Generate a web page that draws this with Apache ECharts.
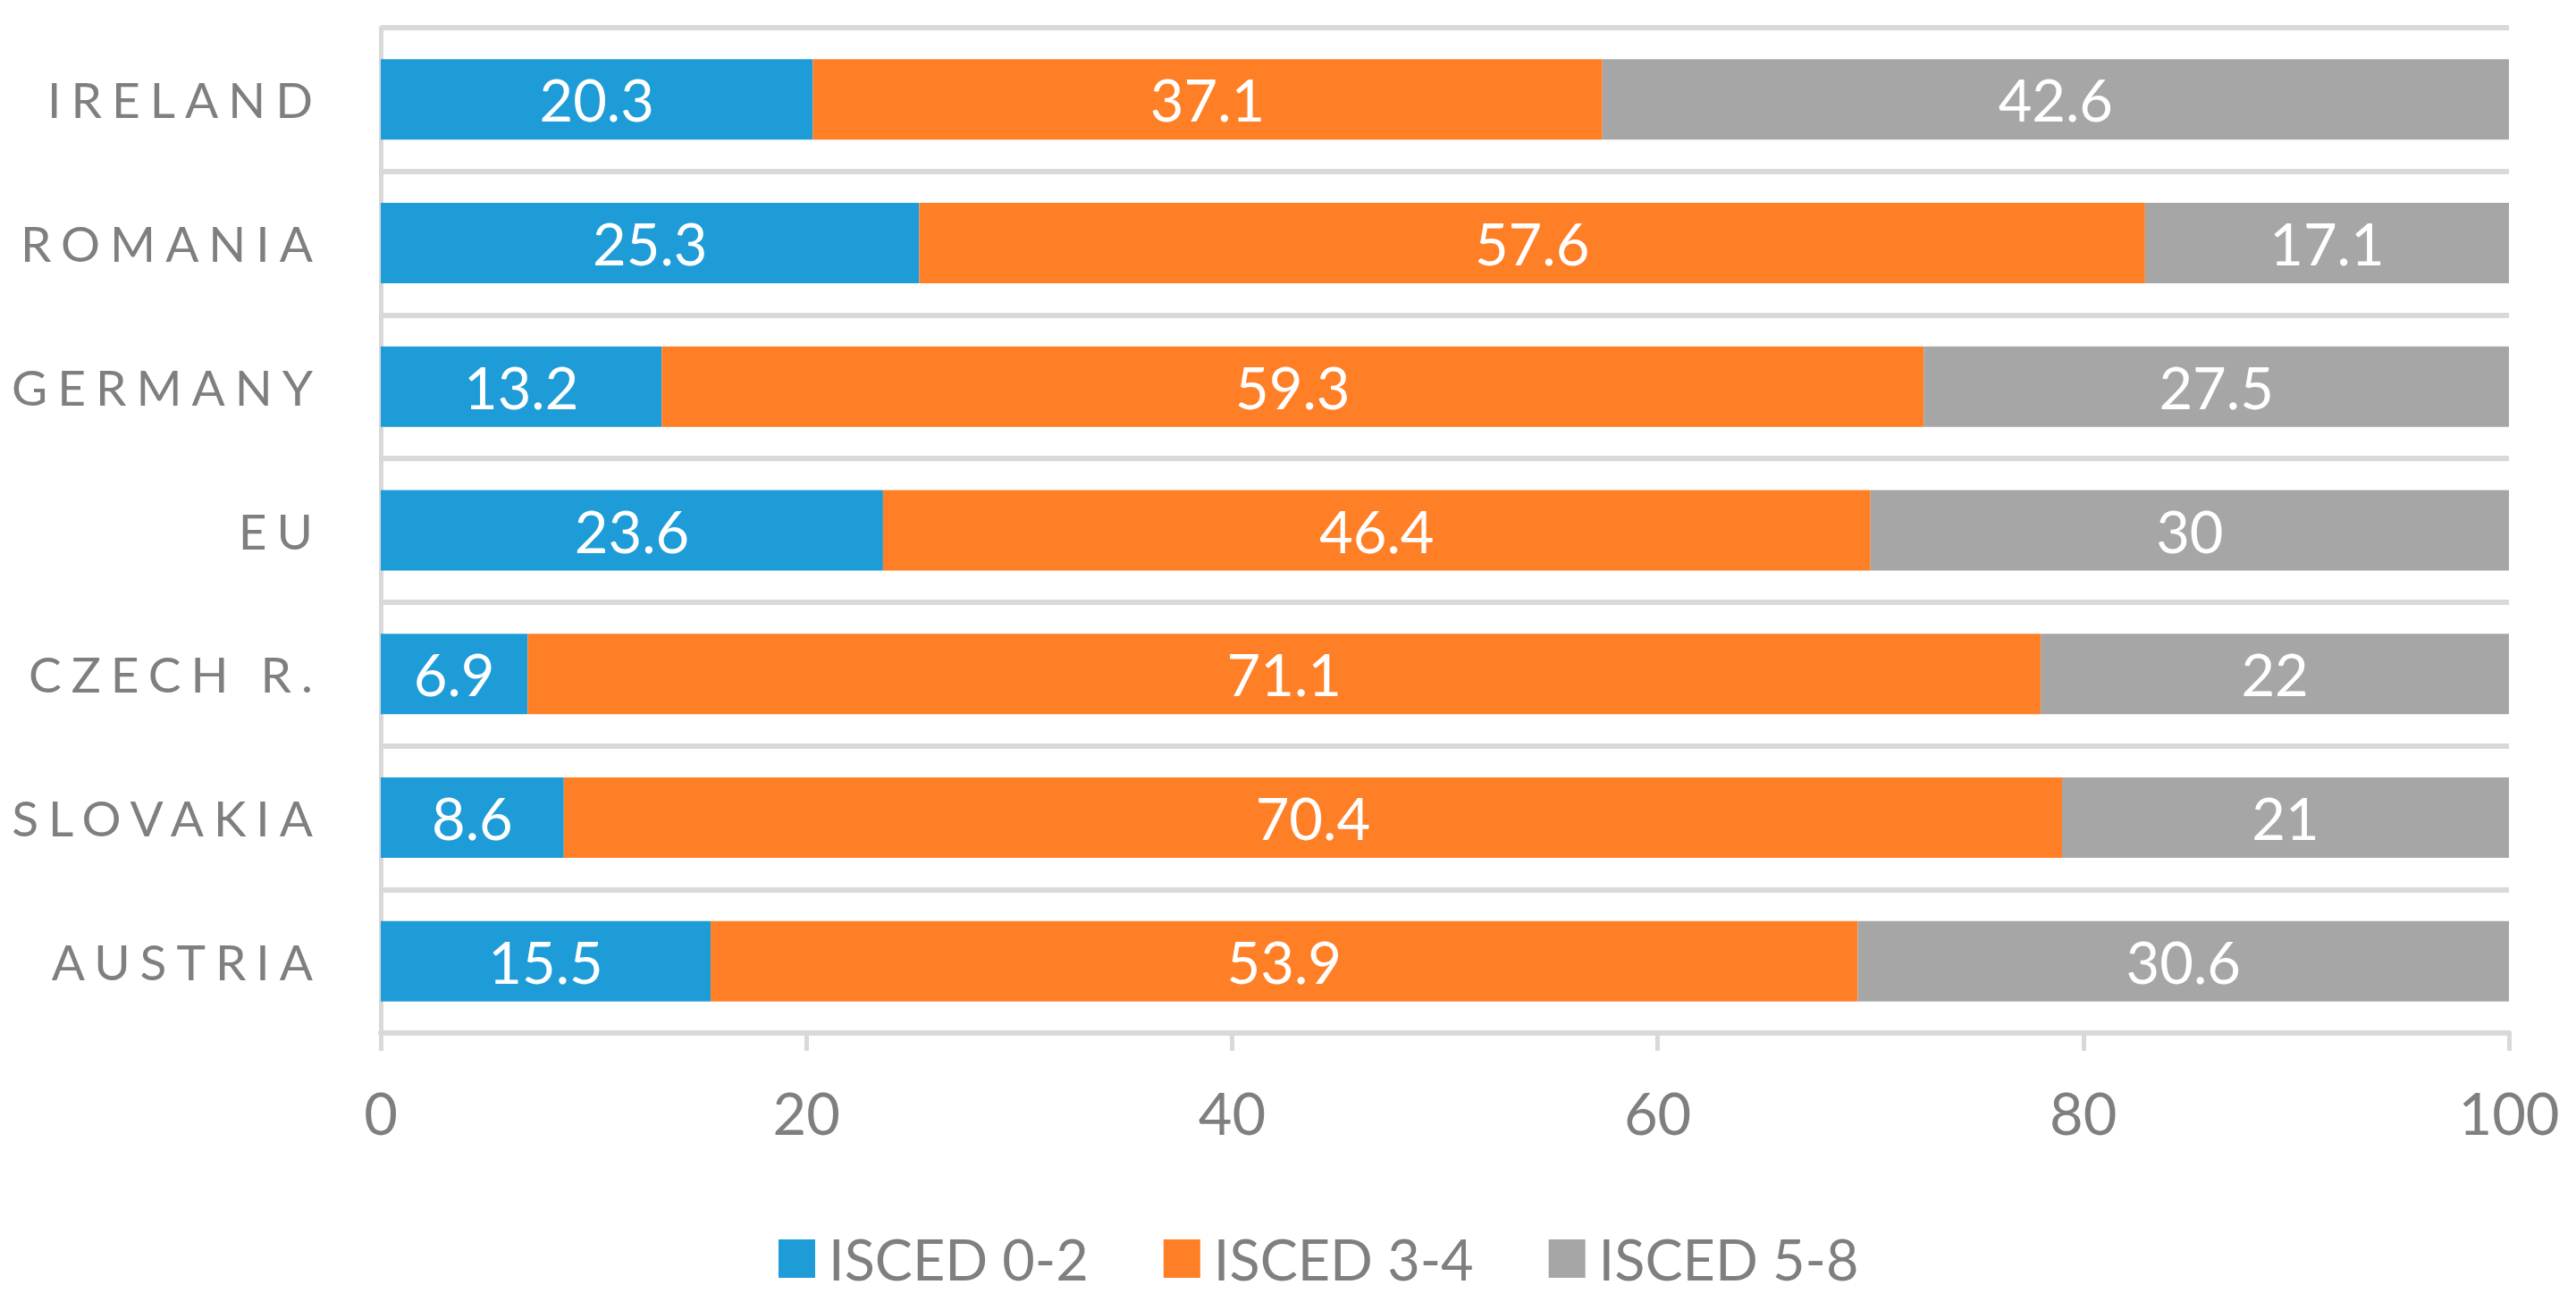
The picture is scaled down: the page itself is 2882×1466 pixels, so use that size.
<!DOCTYPE html>
<html>
<head>
<meta charset="utf-8">
<script src="https://cdn.jsdelivr.net/npm/echarts@6/dist/echarts.min.js"></script>
<style>
  html, body { margin: 0; padding: 0; background: #ffffff; }
  #chart { width: 2882px; height: 1466px; }
  #chart text[text-anchor="end"] { letter-spacing: 11px; }
</style>
</head>
<body>
<div id="chart"></div>
<script>
const categories = ['IRELAND', 'ROMANIA', 'GERMANY', 'EU', 'CZECH R.', 'SLOVAKIA', 'AUSTRIA'];
const isced02 = [20.3, 25.3, 13.2, 23.6, 6.9, 8.6, 15.5];
const isced34 = [37.1, 57.6, 59.3, 46.4, 71.1, 70.4, 53.9];
const isced58 = [42.6, 17.1, 27.5, 30, 22, 21, 30.6];
const seriesNames = ['ISCED 0-2', 'ISCED 3-4', 'ISCED 5-8'];
const xTicks = [0, 20, 40, 60, 80, 100];

const FONT = 'Lato';
const colors = ['#1E9CD8', '#FF7F27', '#A6A6A6'];
const gridColor = '#D9D9D9';
const textColor = '#7F7F7F';

const chart = echarts.init(document.getElementById('chart'), null, { renderer: 'svg' });

function barSeries(name, data, color) {
  return {
    name: name,
    type: 'bar',
    stack: 'total',
    data: data,
    barWidth: '56%',
    itemStyle: { color: color },
    label: {
      show: true,
      position: 'inside',
      color: '#ffffff',
      fontFamily: FONT,
      fontSize: 65
    }
  };
}

chart.setOption({
  animation: false,
  backgroundColor: '#ffffff',
  grid: { left: 426, right: 75, top: 31, bottom: 310, containLabel: false },
  xAxis: {
    type: 'value',
    min: xTicks[0],
    max: xTicks[xTicks.length - 1],
    interval: xTicks[1] - xTicks[0],
    axisLine: { show: true, lineStyle: { color: gridColor, width: 6 } },
    axisTick: { show: true, length: 20, lineStyle: { color: gridColor, width: 5 } },
    splitLine: { show: false },
    axisLabel: { color: textColor, fontFamily: FONT, fontSize: 65, margin: 56 }
  },
  yAxis: {
    type: 'category',
    inverse: true,
    data: categories,
    axisLine: { show: true, lineStyle: { color: gridColor, width: 5 } },
    axisTick: { show: false },
    splitLine: { show: true, lineStyle: { color: gridColor, width: 6 } },
    axisLabel: { color: textColor, fontFamily: FONT, fontSize: 55, margin: 65 }
  },
  legend: {
    left: 866,
    top: 1372,
    itemWidth: 41,
    itemHeight: 43,
    itemGap: 84,
    icon: 'rect',
    textStyle: { color: textColor, fontFamily: FONT, fontSize: 63, padding: [0, 0, 0, 10] },
    data: seriesNames
  },
  series: [
    barSeries(seriesNames[0], isced02, colors[0]),
    barSeries(seriesNames[1], isced34, colors[1]),
    barSeries(seriesNames[2], isced58, colors[2])
  ]
});
</script>
</body>
</html>
